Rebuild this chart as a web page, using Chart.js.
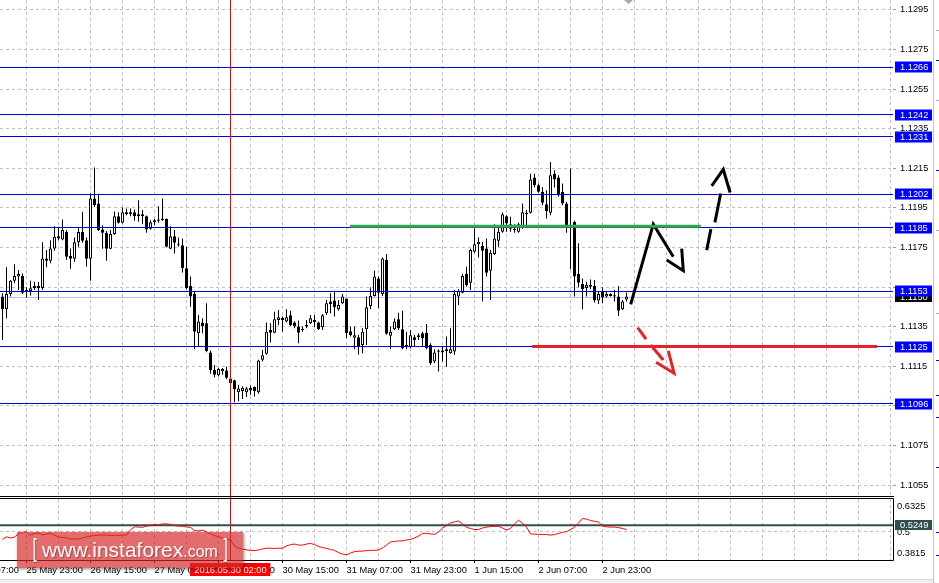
<!DOCTYPE html>
<html>
<head>
<meta charset="utf-8">
<script src="https://cdn.jsdelivr.net/npm/chart.js@4"></script>
<style>
html, body { margin: 0; padding: 0; background: #fff; width: 939px; height: 583px; overflow: hidden; }
#main { position: absolute; left: 0; top: 0; }
#sub { position: absolute; left: 0; top: 497px; }
#edge { position: absolute; left: 933px; top: 0; width: 6px; height: 583px; background: #fff; border-left: 1px solid #c4c4c4; }
#edge i { position: absolute; left: 2px; width: 4px; height: 1px; background: #0000ff; }
#edge i.g { background: #b0b0b0; }
#foot { position: absolute; left: 0; top: 579px; width: 933px; height: 4px; background: #efefef; border-top: 1px solid #d6d6d6; }
#wm { position: absolute; left: 17px; top: 532px; width: 226px; height: 36px; background: rgba(214, 40, 40, 0.68);
      box-shadow: 1px 1px 3px rgba(0, 0, 0, 0.45); color: #fff; font-family: "Liberation Sans", Arial, sans-serif;
      display: flex; align-items: center; justify-content: center; white-space: nowrap; text-shadow: 1px 1px 1px rgba(110, 0, 0, 0.45); }
#wm .b { font-size: 26px; display: inline-block; transform: scaleX(0.6); margin: -3px 4px 0 4px; }
#wm .t { font-size: 21px; }
#wm .c { font-size: 16px; margin-top: 4px; }
</style>
</head>
<body>
<canvas id="main" width="939" height="497"></canvas>
<canvas id="sub" width="939" height="86"></canvas>
<div id="edge">
  <i class="g" style="top:30px"></i><i style="top:60px"></i><i class="g" style="top:100px"></i><i style="top:170px"></i>
  <i class="g" style="top:230px"></i><i class="g" style="top:313px"></i><i style="top:360px"></i><i style="top:395px"></i>
  <i style="top:417px"></i><i style="top:467px"></i><i style="top:532px"></i><i style="top:555px"></i>
</div>
<div id="foot"></div>
<div id="wm"><span class="b">[</span><span class="t">www.instaforex</span><span class="c">.com</span><span class="b">]</span></div>
<script>
// EURUSD H1, bars 0..156 (25 May 17:00 .. 3 Jun 05:00)
const opens = [
  1.11502,1.11438,1.11515,1.11582,1.11603,1.11606,1.11525,1.11529,1.11545,1.11556,
  1.11545,1.11695,1.11683,1.11745,1.11807,1.11791,1.11828,1.11707,1.11693,1.11777,
  1.11828,1.11787,1.11693,1.11997,1.11972,1.11841,1.11824,1.11744,1.11818,1.11908,
  1.11875,1.11918,1.11928,1.11928,1.11918,1.11918,1.11908,1.11845,1.11878,1.11885,
  1.11888,1.11895,1.11744,1.11807,1.11767,1.11762,1.11645,1.11556,1.11515,1.11317,
  1.11371,1.11367,1.11220,1.11132,1.11105,1.11125,1.11129,1.11089,1.11079,1.11019,
  1.11025,1.11019,1.11042,1.11045,1.11019,1.11183,1.11213,1.11334,1.11320,1.11384,
  1.11394,1.11376,1.11408,1.11371,1.11351,1.11337,1.11351,1.11367,1.11374,1.11371,
  1.11347,1.11418,1.11477,1.11482,1.11438,1.11468,1.11492,1.11327,1.11294,1.11297,
  1.11258,1.11337,1.11455,1.11505,1.11594,1.11515,1.11687,1.11304,1.11337,1.11388,
  1.11337,1.11246,1.11246,1.11297,1.11297,1.11317,1.11320,1.11258,1.11174,1.11230,
  1.11220,1.11236,1.11216,1.11225,1.11502,1.11522,1.11616,1.11572,1.11729,1.11767,
  1.11757,1.11745,1.11633,1.11717,1.11784,1.11829,1.11908,1.11868,1.11838,1.11829,
  1.11858,1.11918,1.11925,1.12103,1.12065,1.12031,1.11969,1.11925,1.12123,1.12103,
  1.12031,1.11972,1.11858,1.11880,1.11616,1.11566,1.11545,1.11552,1.11556,1.11482,
  1.11527,1.11502,1.11515,1.11509,1.11502,1.11438,1.11488
];
const highs = [
  1.11519,1.11650,1.11586,1.11666,1.11636,1.11619,1.11549,1.11582,1.11577,1.11576,
  1.11777,1.11737,1.11787,1.11858,1.11855,1.11892,1.11838,1.11745,1.11801,1.11848,
  1.11930,1.11801,1.12023,1.12154,1.12023,1.11863,1.11834,1.11838,1.11932,1.11928,
  1.11952,1.11947,1.11947,1.11942,1.11989,1.11939,1.11912,1.11888,1.11895,1.11959,
  1.11997,1.11897,1.11858,1.11838,1.11801,1.11796,1.11754,1.11603,1.11527,1.11409,
  1.11393,1.11468,1.11230,1.11157,1.11141,1.11141,1.11149,1.11099,1.11082,1.11057,
  1.11048,1.11045,1.11052,1.11048,1.11183,1.11233,1.11371,1.11367,1.11426,1.11435,
  1.11401,1.11438,1.11431,1.11377,1.11381,1.11351,1.11384,1.11409,1.11409,1.11376,
  1.11414,1.11485,1.11519,1.11532,1.11485,1.11515,1.11493,1.11351,1.11351,1.11309,
  1.11342,1.11502,1.11549,1.11633,1.11603,1.11700,1.11717,1.11351,1.11393,1.11421,
  1.11431,1.11325,1.11334,1.11309,1.11317,1.11325,1.11364,1.11267,1.11236,1.11236,
  1.11250,1.11300,1.11342,1.11535,1.11539,1.11616,1.11653,1.11745,1.11846,1.11801,
  1.11779,1.11796,1.11737,1.11868,1.11851,1.11928,1.11913,1.11905,1.11868,1.11875,
  1.11972,1.11939,1.12123,1.12123,1.12073,1.12056,1.12039,1.12182,1.12140,1.12115,
  1.12073,1.11981,1.12149,1.11885,1.11771,1.11594,1.11577,1.11589,1.11586,1.11527,
  1.11549,1.11527,1.11519,1.11535,1.11556,1.11485,1.11522
];
const lows = [
  1.11283,1.11393,1.11502,1.11569,1.11535,1.11515,1.11498,1.11508,1.11535,1.11485,
  1.11535,1.11650,1.11670,1.11734,1.11787,1.11787,1.11687,1.11643,1.11677,1.11754,
  1.11774,1.11653,1.11582,1.11955,1.11834,1.11744,1.11683,1.11741,1.11814,1.11871,
  1.11871,1.11913,1.11908,1.11885,1.11880,1.11868,1.11824,1.11841,1.11863,1.11875,
  1.11885,1.11750,1.11741,1.11720,1.11754,1.11624,1.11539,1.11451,1.11236,1.11250,
  1.11317,1.11221,1.11112,1.11095,1.11099,1.11107,1.11085,1.11062,1.10968,1.10973,
  1.10985,1.10995,1.11006,1.10998,1.11012,1.11174,1.11208,1.11270,1.11317,1.11359,
  1.11325,1.11372,1.11353,1.11342,1.11267,1.11325,1.11342,1.11364,1.11347,1.11334,
  1.11334,1.11409,1.11418,1.11401,1.11431,1.11465,1.11292,1.11300,1.11236,1.11208,
  1.11216,1.11258,1.11438,1.11502,1.11443,1.11505,1.11309,1.11236,1.11334,1.11334,
  1.11236,1.11236,1.11241,1.11253,1.11283,1.11250,1.11236,1.11157,1.11166,1.11124,
  1.11174,1.11146,1.11213,1.11208,1.11460,1.11519,1.11552,1.11535,1.11724,1.11700,
  1.11477,1.11603,1.11485,1.11712,1.11754,1.11824,1.11829,1.11829,1.11824,1.11824,
  1.11845,1.11863,1.11922,1.12053,1.12026,1.11964,1.11897,1.11913,1.12053,1.12006,
  1.11964,1.11824,1.11640,1.11502,1.11549,1.11438,1.11502,1.11539,1.11472,1.11465,
  1.11468,1.11498,1.11502,1.11477,1.11404,1.11435,1.11477
];
const closes = [
  1.11438,1.11515,1.11582,1.11606,1.11616,1.11522,1.11535,1.11544,1.11556,1.11545,
  1.11695,1.11683,1.11745,1.11804,1.11796,1.11838,1.11703,1.11693,1.11777,1.11828,
  1.11784,1.11693,1.11997,1.11964,1.11838,1.11824,1.11744,1.11818,1.11908,1.11875,
  1.11928,1.11928,1.11918,1.11908,1.11908,1.11908,1.11841,1.11878,1.11888,1.11892,
  1.11895,1.11754,1.11807,1.11774,1.11764,1.11645,1.11544,1.11502,1.11325,1.11376,
  1.11353,1.11227,1.11132,1.11107,1.11136,1.11136,1.11092,1.11065,1.11035,1.11038,
  1.11042,1.11038,1.11028,1.11025,1.11179,1.11206,1.11325,1.11320,1.11388,1.11398,
  1.11384,1.11398,1.11357,1.11351,1.11320,1.11334,1.11359,1.11393,1.11384,1.11337,
  1.11408,1.11468,1.11465,1.11448,1.11460,1.11502,1.11317,1.11307,1.11307,1.11250,
  1.11325,1.11448,1.11505,1.11603,1.11522,1.11695,1.11314,1.11325,1.11376,1.11342,
  1.11241,1.11258,1.11307,1.11283,1.11307,1.11292,1.11241,1.11166,1.11220,1.11223,
  1.11230,1.11226,1.11236,1.11515,1.11532,1.11606,1.11561,1.11737,1.11767,1.11779,
  1.11734,1.11623,1.11724,1.11796,1.11829,1.11918,1.11871,1.11845,1.11845,1.11868,
  1.11928,1.11925,1.12093,1.12065,1.12031,1.11976,1.11935,1.12115,1.12093,1.12014,
  1.11972,1.11863,1.11851,1.11603,1.11572,1.11539,1.11561,1.11561,1.11482,1.11515,
  1.11498,1.11515,1.11505,1.11502,1.11431,1.11477,1.11502
];
// oscillator in the lower window
const oscValues = [
  0.466,0.477,0.472,0.476,0.489,0.495,0.497,0.484,0.491,0.493,
  0.484,0.489,0.491,0.484,0.476,0.474,0.472,0.468,0.468,0.468,
  0.472,0.477,0.480,0.482,0.484,0.484,0.484,0.483,0.483,0.483,
  0.484,0.484,0.505,0.518,0.517,0.516,0.521,0.523,0.528,0.526,
  0.530,0.530,0.528,0.523,0.521,0.521,0.517,0.516,0.503,0.501,
  0.505,0.497,0.489,0.482,0.476,0.472,0.468,0.464,0.439,0.430,
  0.427,0.423,0.421,0.420,0.423,0.427,0.430,0.430,0.429,0.430,
  0.430,0.439,0.445,0.447,0.443,0.443,0.447,0.450,0.445,0.437,
  0.433,0.429,0.425,0.421,0.412,0.406,0.402,0.410,0.416,0.418,
  0.418,0.420,0.421,0.421,0.423,0.431,0.443,0.456,0.458,0.460,
  0.460,0.464,0.466,0.472,0.480,0.491,0.491,0.489,0.487,0.497,
  0.513,0.523,0.534,0.538,0.542,0.530,0.516,0.511,0.507,0.507,
  0.513,0.517,0.519,0.520,0.520,0.513,0.505,0.511,0.530,0.545,
  0.534,0.517,0.489,0.488,0.487,0.486,0.486,0.484,0.486,0.491,
  0.495,0.498,0.507,0.516,0.534,0.552,0.550,0.544,0.541,0.538,
  0.521,0.518,0.517,0.517,0.515,0.511,0.507
];

const priceTicks = [1.1055, 1.1075, 1.1095, 1.1115, 1.1135, 1.1155, 1.1175, 1.1195, 1.1215, 1.1235, 1.1255, 1.1275, 1.1295];
const timeBars = [-10, 6, 22, 38, 54, 70, 86, 102, 118, 134, 150];
const timeLabels = ['25 May 07:00', '25 May 23:00', '26 May 15:00', '27 May 07:00', '27 May 23:00', '30 May 15:00',
                    '31 May 07:00', '31 May 23:00', '1 Jun 15:00', '2 Jun 07:00', '2 Jun 23:00'];
const levels = [1.1266, 1.1242, 1.1231, 1.1202, 1.1185, 1.1153, 1.1125, 1.1096];
const lastPrice = 1.1150;
const markerBar = 57;
const markerLabel = '2016.05.30 02:00';
const oscLevel = 0.5249;
const oscTicks = [0.6325, 0.5, 0.3815];

// hand drawn objects: [bar, price] points
const resistLine = [[86.9, 1.11857], [174.6, 1.11857]];
const supportLine = [[132.4, 1.1125], [218.6, 1.1125]];
const blackStrokes = [
  [[157.05, 1.11463], [162.7, 1.11868], [167.7, 1.11703]],
  [[166.05, 1.11687], [170.2, 1.11633], [169.8, 1.11744]],
  [[176.05, 1.11737], [177.1, 1.11843]],
  [[178.1, 1.11877], [179.55, 1.12023]],
  [[177.3, 1.12061], [180.2, 1.12144], [181.9, 1.12028]]
];
const redStrokes = [
  [[158.8, 1.11345], [160.9, 1.11287]],
  [[162.05, 1.11258], [165.2, 1.11182]],
  [[163.4, 1.11171], [167.9, 1.11115], [166.45, 1.11228]]
];

Chart.defaults.font.family = '"Liberation Sans", Arial, sans-serif';
Chart.defaults.font.size = 9.3;
Chart.defaults.color = '#000';

const FONT = '9.3px "Liberation Sans", Arial, sans-serif';
const X_MIN = -0.625, X_MAX = 222.625;   // 4 px per bar, plot 893 px wide
const gridBars = [];
for (let b = -10; b <= 222; b += 8) gridBars.push(b);

function stroke(pts, color) {
  return {
    type: 'line', data: pts.map(p => ({ x: p[0], y: p[1] })),
    borderColor: color, borderWidth: 3, pointRadius: 0, tension: 0, order: 0,
    borderCapStyle: 'butt', borderJoinStyle: 'miter'
  };
}

function axisBox(ctx, x, y, w, h, bg, text) {
  ctx.fillStyle = bg;
  ctx.fillRect(x, y - h / 2, w, h);
  ctx.fillStyle = '#fff';
  ctx.textAlign = 'left';
  ctx.textBaseline = 'middle';
  ctx.fillText(text, x + 5, y + 0.5);
}

function hLine(ctx, x1, x2, y, color, width) {
  ctx.save();
  ctx.strokeStyle = color;
  ctx.lineWidth = width;
  ctx.beginPath();
  ctx.moveTo(x1, y);
  ctx.lineTo(x2, y);
  ctx.stroke();
  ctx.restore();
}

function vLine(ctx, x, y1, y2, color) {
  ctx.save();
  ctx.strokeStyle = color;
  ctx.lineWidth = 1;
  ctx.beginPath();
  ctx.moveTo(x, y1);
  ctx.lineTo(x, y2);
  ctx.stroke();
  ctx.restore();
}

// price labels hidden behind the level boxes on the scale
const boxed = levels.concat([lastPrice]);
const priceLabel = v => boxed.some(b => Math.abs(b - v) < 0.0003) ? '' : v.toFixed(4);

const mainDecor = {
  id: 'mainDecor',
  beforeDatasetsDraw(chart) {
    const { ctx, chartArea: a, scales: { y } } = chart;
    hLine(ctx, a.left, a.right, Math.floor(y.getPixelForValue(lastPrice)) + 0.5, '#c0c0c0', 1);
  },
  afterDatasetDraw(chart, args) {
    if (args.index !== 1) return;   // right after candle bodies
    const { ctx, chartArea: a, scales: { y } } = chart;
    levels.forEach(v => hLine(ctx, a.left, a.right, Math.floor(y.getPixelForValue(v)) + 0.5, '#0000e0', 1));
  },
  afterDraw(chart) {
    const { ctx, chartArea: a, scales: { x, y } } = chart;
    hLine(ctx, 0, a.right + 1, a.bottom - 0.5, '#000', 1);
    vLine(ctx, Math.floor(x.getPixelForValue(markerBar)) + 0.5, 0, a.bottom - 1, '#ff0000');
    // chart shift marker
    ctx.fillStyle = '#a8a8a8';
    ctx.beginPath(); ctx.moveTo(624, 0); ctx.lineTo(633, 0); ctx.lineTo(628.5, 4); ctx.closePath(); ctx.fill();
    ctx.font = FONT;
    axisBox(ctx, a.right + 2, Math.round(y.getPixelForValue(lastPrice)), 37, 10, '#000', lastPrice.toFixed(4));
    levels.forEach(v => axisBox(ctx, a.right + 2, Math.round(y.getPixelForValue(v)), 37, 11, '#0000ff', v.toFixed(4)));
  }
};

const subDecor = {
  id: 'subDecor',
  beforeDatasetsDraw(chart) {
    const { ctx, chartArea: a, scales: { y } } = chart;
    hLine(ctx, a.left, a.right, y.getPixelForValue(oscLevel), '#2f4f4f', 2);
  },
  afterDraw(chart) {
    const { ctx, chartArea: a, scales: { x, y } } = chart;
    const mx = Math.floor(x.getPixelForValue(markerBar)) + 0.5;
    vLine(ctx, mx, 0, a.bottom, '#ff0000');
    // window frame
    ctx.save();
    ctx.strokeStyle = '#000';
    ctx.lineWidth = 1;
    ctx.beginPath();
    ctx.moveTo(0, a.top - 0.5); ctx.lineTo(a.right + 0.5, a.top - 0.5);
    ctx.lineTo(a.right + 0.5, a.bottom + 0.5); ctx.lineTo(0, a.bottom + 0.5);
    ctx.stroke();
    ctx.restore();
    // right scale texts
    ctx.font = FONT;
    ctx.fillStyle = '#000';
    ctx.textAlign = 'left';
    ctx.textBaseline = 'middle';
    ctx.fillText(oscTicks[0].toFixed(4), a.right + 4, a.top + 7);
    ctx.fillText(String(oscTicks[1]), a.right + 4, y.getPixelForValue(oscTicks[1]) + 1);
    ctx.fillText(oscTicks[2].toFixed(4), a.right + 4, a.bottom - 7);
    axisBox(ctx, a.right + 2, Math.round(y.getPixelForValue(oscLevel)), 37, 10, '#2f4f4f', oscLevel.toFixed(4));
    // time of the vertical line
    const w = ctx.measureText(markerLabel).width + 8;
    ctx.fillStyle = '#ff0000';
    ctx.fillRect(Math.round(mx - w / 2), a.bottom + 3, w, 13);
    ctx.fillStyle = '#fff';
    ctx.textAlign = 'center';
    ctx.fillText(markerLabel, mx, a.bottom + 10);
  }
};

new Chart(document.getElementById('main'), {
  type: 'bar',
  data: {
    datasets: [
      {
        data: highs.map((h, i) => ({ x: i, y: [lows[i], h] })),
        backgroundColor: '#000', borderWidth: 0, barThickness: 1, grouped: false, inflateAmount: 0, order: 2
      },
      {
        data: opens.map((o, i) => ({ x: i, y: [Math.min(o, closes[i]), Math.max(o, closes[i])] })),
        backgroundColor: c => closes[c.dataIndex] >= opens[c.dataIndex] ? '#fff' : '#000',
        borderColor: '#000', borderWidth: 1, borderSkipped: false, barThickness: 3,
        grouped: false, inflateAmount: 0, minBarLength: 1, order: 1
      },
      stroke(resistLine, '#2eaa4a'),
      stroke(supportLine, '#e8202a'),
      ...blackStrokes.map(s => stroke(s, '#000')),
      ...redStrokes.map(s => stroke(s, '#e8202a'))
    ]
  },
  options: {
    responsive: false, animation: false, events: [],
    layout: { padding: 0 },
    plugins: { legend: { display: false }, tooltip: { enabled: false } },
    scales: {
      x: {
        type: 'linear', min: X_MIN, max: X_MAX, offset: false,
        ticks: { display: false },
        grid: { color: '#c0c0c0', drawTicks: false, offset: false },
        border: { display: false, dash: [3, 3] },
        afterBuildTicks: s => { s.ticks = gridBars.map(v => ({ value: v })); },
        afterFit: s => { s.height = 0; s.paddingLeft = 0; s.paddingRight = 0; }
      },
      y: {
        type: 'linear', position: 'right', min: 1.1049, max: 1.1300,
        ticks: { padding: 4, color: '#000', callback: v => priceLabel(v) },
        grid: { color: '#c0c0c0', tickLength: 3, tickColor: '#9a9a9a' },
        border: { display: false, dash: [3, 3] },
        afterBuildTicks: s => { s.ticks = priceTicks.map(v => ({ value: v })); },
        afterFit: s => { s.width = 46; s.paddingTop = 0; s.paddingBottom = 0; }
      }
    }
  },
  plugins: [mainDecor]
});

new Chart(document.getElementById('sub'), {
  type: 'line',
  data: {
    datasets: [{
      data: oscValues.map((v, i) => ({ x: i, y: v })),
      borderColor: '#ff0000', borderWidth: 1, pointRadius: 0, tension: 0
    }]
  },
  options: {
    responsive: false, animation: false, events: [],
    layout: { padding: { top: 2 } },
    plugins: { legend: { display: false }, tooltip: { enabled: false } },
    scales: {
      x: {
        type: 'linear', min: X_MIN, max: X_MAX, position: 'bottom',
        ticks: {
          autoSkip: false, maxRotation: 0, align: 'start', padding: 2, color: '#000',
          callback: v => { const k = timeBars.indexOf(v); return k >= 0 ? timeLabels[k] : ''; }
        },
        grid: {
          color: '#c0c0c0', tickLength: 3,
          tickColor: c => (c.tick && timeBars.indexOf(c.tick.value) >= 0) ? '#000' : 'rgba(0,0,0,0)'
        },
        border: { display: false, dash: [3, 3] },
        afterBuildTicks: s => { s.ticks = gridBars.map(v => ({ value: v })); },
        afterFit: s => { s.height = 23; s.paddingLeft = 0; s.paddingRight = 0; }
      },
      y: {
        type: 'linear', position: 'right', min: 0.3815, max: 0.6325,
        ticks: { display: false },
        grid: { color: '#c0c0c0', drawTicks: false },
        border: { display: false, dash: [3, 3] },
        afterBuildTicks: s => { s.ticks = [{ value: oscTicks[1] }]; },
        afterFit: s => { s.width = 46; s.paddingTop = 0; s.paddingBottom = 0; }
      }
    }
  },
  plugins: [subDecor]
});
</script>
</body>
</html>
